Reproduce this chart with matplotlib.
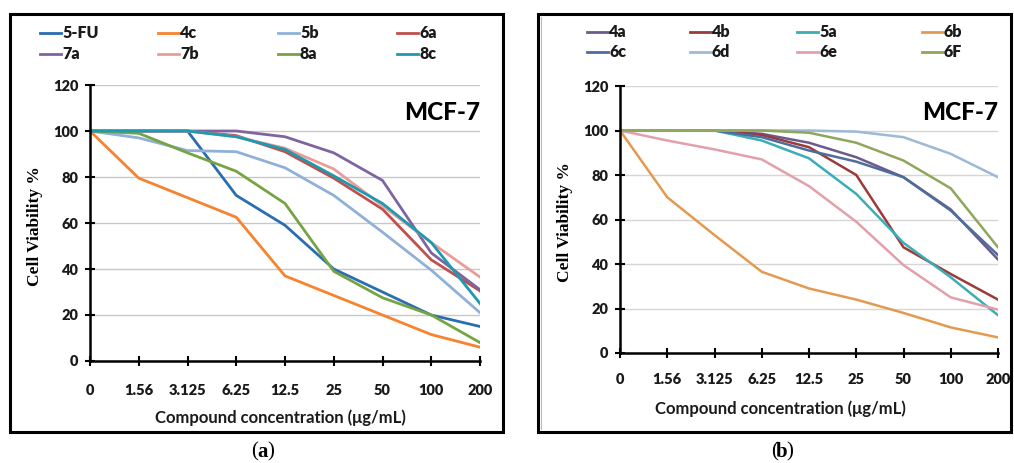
import matplotlib
matplotlib.use("Agg")
import matplotlib.pyplot as plt
from matplotlib.patches import Rectangle
from matplotlib.lines import Line2D

# x categories (shared by both panels)
conc_labels = ["0", "1.56", "3.125", "6.25", "12.5", "25", "50", "100", "200"]

# panel (a)
a_names = ["5-FU", "4c", "5b", "6a", "7a", "7b", "8a", "8c"]
a_colors = ["#2a6db0", "#f5832f", "#8fb0d9", "#c0504d", "#8064a2", "#eb9c99", "#77a443", "#1c9bb0"]
a_5fu = [100, 100, 100, 72, 59, 40, 30, 20, 15]
a_4c = [100, 79.5, 71, 62.5, 37, 28.5, 20, 11.5, 6]
a_5b = [100, 97, 91.5, 91, 84, 72, 56, 39.5, 21]
a_6a = [100, 100, 100, 98, 91, 79.5, 66, 44, 30.5]
a_7a = [100, 100, 100, 100, 97.5, 90.5, 78.5, 47, 31]
a_7b = [100, 100, 100, 97.5, 92.5, 83.5, 67.5, 51.5, 36.5]
a_8a = [100, 99, 90.5, 82.5, 68.5, 39, 27.5, 20, 8]
a_8c = [100, 100, 100, 97.5, 92, 80.5, 68.5, 51.5, 25]
a_series = [a_5fu, a_4c, a_5b, a_6a, a_7a, a_7b, a_8a, a_8c]

# panel (b)
b_names = ["4a", "4b", "5a", "6b", "6c", "6d", "6e", "6F"]
b_colors = ["#6b5b8c", "#9c3a3a", "#3aaeb5", "#e39a50", "#4d6d9b", "#9cb9d6", "#e2a0aa", "#8fa65b"]
b_4a = [100, 100, 100, 98.5, 94.5, 88, 79, 64.5, 42]
b_4b = [100, 100, 100, 98, 92.5, 80, 47.5, 35.5, 24]
b_5a = [100, 100, 100, 95.5, 87.5, 71.5, 49.5, 34, 17]
b_6b = [100, 70, 53, 36.5, 29, 24, 18, 11.5, 7]
b_6c = [100, 100, 100, 97, 91, 86, 79, 64, 44]
b_6d = [100, 100, 100, 100, 100, 99.5, 97, 89.5, 79]
b_6e = [100, 95.5, 91.5, 87, 75, 59, 39.5, 25, 19.5]
b_6f = [100, 100, 100, 100, 99, 94.5, 86.5, 74, 47.5]
b_series = [b_4a, b_4b, b_5a, b_6b, b_6c, b_6d, b_6e, b_6f]

W, H = 1014, 463
fig = plt.figure(figsize=(W / 100, H / 100), dpi=100)
fig.patch.set_facecolor("white")

sans = ["Lato", "DejaVu Sans"]
serif = ["Liberation Serif", "DejaVu Serif"]


def fx(px):
    return px / W


def fy(py):
    return 1 - py / H


def panel(rect, series, names, colors, lw, gridc, tickpad, leg_cols, leg_rows):
    x0, y0, x1, y1 = rect
    ax = fig.add_axes([fx(x0), fy(y1), fx(x1 - x0), (y1 - y0) / H])
    xs = list(range(len(conc_labels)))
    for vals, c in zip(series, colors):
        ax.plot(xs, vals, color=c, lw=lw, solid_joinstyle="miter")
    ax.set_xlim(0, 8)
    ax.set_ylim(0, 120)
    ax.set_yticks(range(0, 121, 20))
    ax.set_xticks(xs)
    ax.set_xticklabels(conc_labels)
    ax.yaxis.grid(True, color=gridc, lw=1)
    ax.set_axisbelow(True)
    for s in ["top", "right"]:
        ax.spines[s].set_visible(False)
    for s in ["left", "bottom"]:
        ax.spines[s].set_linewidth(1.8)
        ax.spines[s].set_color("black")
    ax.tick_params(axis="both", direction="inout", length=7, width=1.5)
    ax.tick_params(axis="y", pad=5)
    ax.tick_params(axis="x", pad=tickpad)
    for lab in ax.get_xticklabels() + ax.get_yticklabels():
        lab.set_family(sans)
        lab.set_fontweight("heavy")
        lab.set_fontsize(10.5)
        lab.set_color("#1a1a1a")
    ax.text(1.0, 0.90, "MCF-7", transform=ax.transAxes, ha="right", va="center",
            family=sans, fontweight="black", fontsize=17.5)
    # legend entries laid out in a 4x2 grid above the plot
    for i, (n, c) in enumerate(zip(names, colors)):
        lx = leg_cols[i % 4]
        ly = leg_rows[i // 4]
        fig.add_artist(Line2D([fx(lx), fx(lx + 21)], [fy(ly), fy(ly)], color=c, lw=2))
        fig.text(fx(lx + 22), fy(ly), n, ha="left", va="center", family=sans,
                 fontweight="heavy", fontsize=11.5, color="#1a1a1a")
    return ax


ax_a = panel((90, 85, 480, 361), a_series, a_names, a_colors, 2.0, "#c8c8c8", 13,
             [40, 158, 278, 397], [33, 54])
ax_b = panel((620, 86, 998, 353), b_series, b_names, b_colors, 1.8, "#d6d6d6", 11,
             [587, 690, 797, 922], [32, 52])

# panel frames
fig.add_artist(Rectangle((fx(10), fy(432)), fx(493), 418 / H, fill=False, lw=2.2, ec="black"))
fig.add_artist(Rectangle((fx(538), fy(432)), fx(473), 418 / H, fill=False, lw=2.2, ec="black"))
fig.add_artist(Line2D([fx(541), fx(541)], [fy(429), fy(17)], color="#bbbbbb", lw=0.8))

# axis titles
for cx, cy in [(35, 226), (565, 222)]:
    fig.text(fx(cx), fy(cy), "Cell Viability %", rotation=90, ha="center", va="center",
             family=serif, fontweight="bold", fontsize=12.5)
for cx, cy in [(280, 418), (780, 409)]:
    fig.text(fx(cx), fy(cy), "Compound concentration (μg/mL)", ha="center", va="center",
             family=sans, fontsize=12, fontweight="bold", color="#1a1a1a")

# captions: regular parentheses, bold letter
for cx, letter in [(263, "a"), (782, "b")]:
    fig.text(fx(cx - 4.5), fy(452), "(", ha="right", va="center", family=serif, fontsize=15)
    fig.text(fx(cx), fy(452), letter, ha="center", va="center", family=serif,
             fontsize=15, fontweight="bold")
    fig.text(fx(cx + 4.5), fy(452), ")", ha="left", va="center", family=serif, fontsize=15)

fig.savefig("out.png", dpi=100, facecolor="white")
